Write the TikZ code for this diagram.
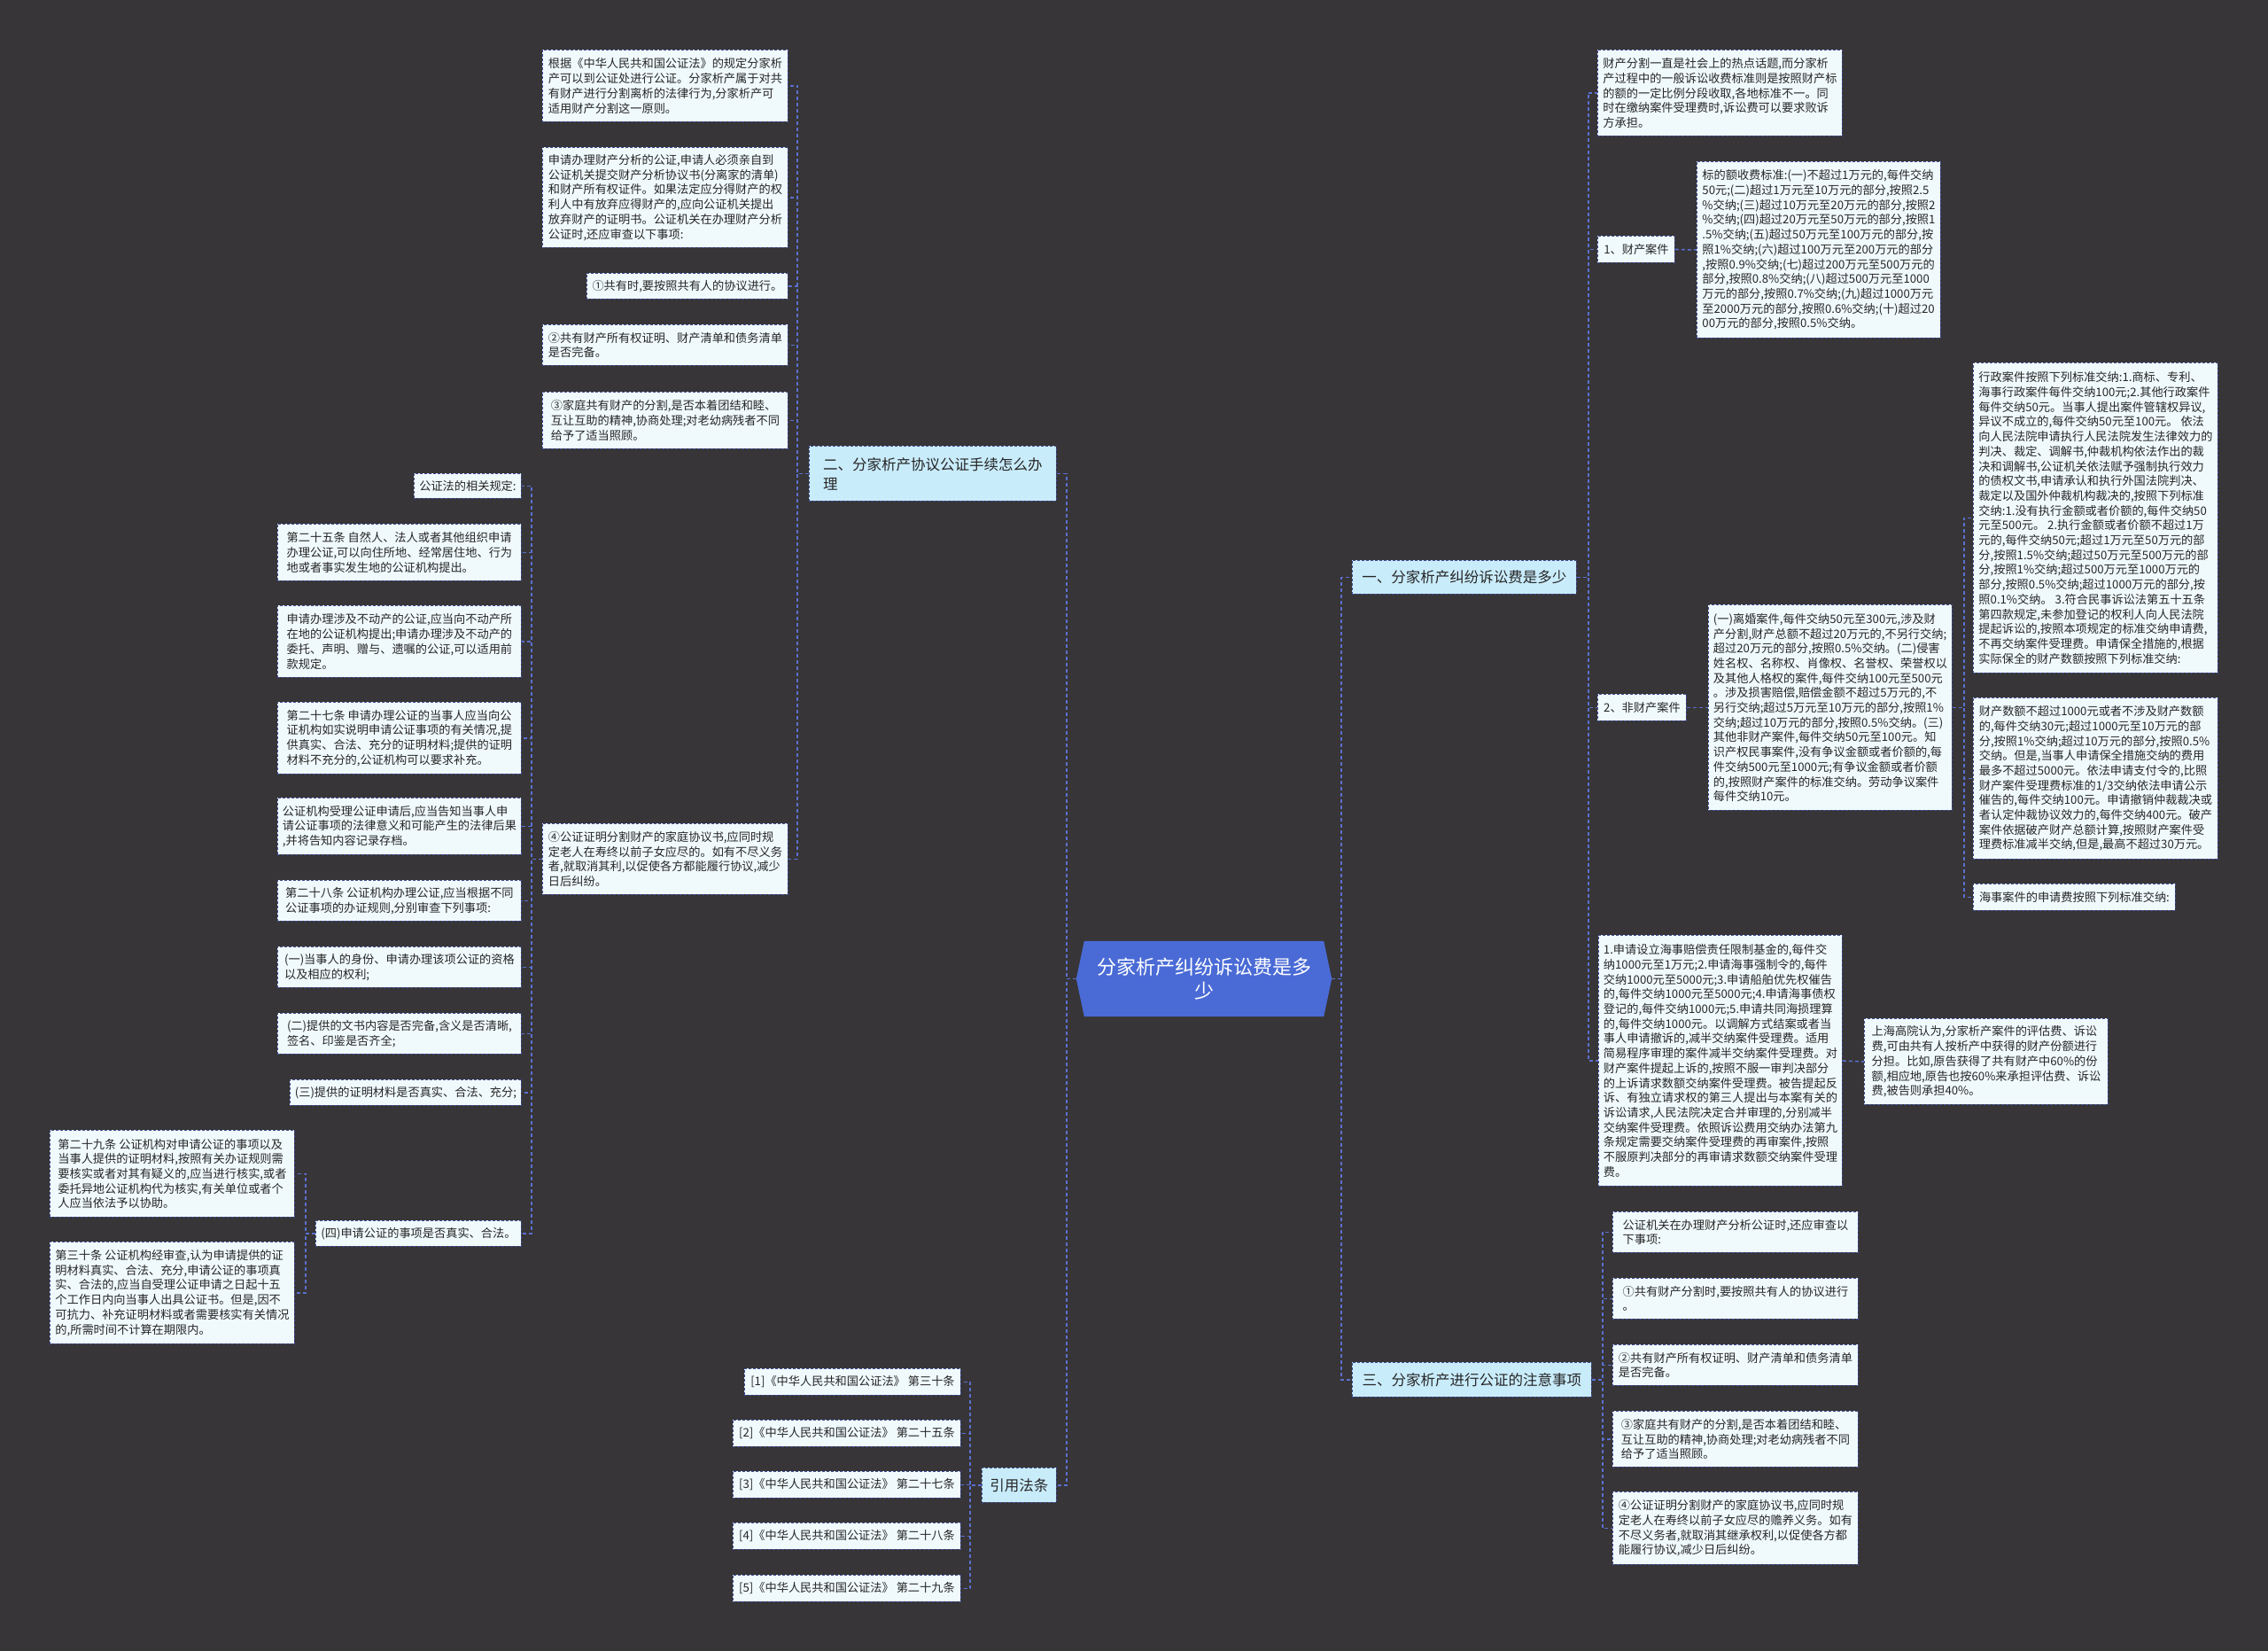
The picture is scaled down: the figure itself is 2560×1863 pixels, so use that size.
\documentclass[tikz,border=0pt]{standalone}
\usepackage{fontspec}
\setmainfont{Noto Sans CJK SC}
\usetikzlibrary{calc}
\definecolor{bgc}{HTML}{373537}
\definecolor{leaff}{HTML}{F0FAFD}
\definecolor{lvlf}{HTML}{C9ECFB}
\definecolor{rootf}{HTML}{4A6BD6}
\definecolor{bordc}{HTML}{3E4C93}
\definecolor{linec}{HTML}{5A70D0}
\definecolor{txtc}{HTML}{262626}
\pgfdeclarelayer{bg}
\pgfsetlayers{bg,main}
\tikzset{
 leaf/.style={draw=bordc, dash pattern=on 3pt off 2pt, line width=0.9pt, fill=leaff, text=txtc,
   font=\fontsize{13.2}{16.7}\selectfont, align=left, anchor=north west, inner xsep=2pt, inner ysep=0pt},
 lvl/.style={leaf, fill=lvlf, font=\fontsize{16.5}{22}\selectfont},
 root/.style={text=white, font=\fontsize{22}{27}\selectfont, align=center, minimum width=288pt,
   minimum height=85pt, inner sep=0pt},
 conn/.style={draw=linec, line width=1.5pt, dash pattern=on 4pt off 3pt},
}
\newcommand{\bx}[7][leaf]{\node[#1,minimum width=#5pt,minimum height=#6pt] (#2) at (#3,#4) {#7};}
\begin{document}
\begin{tikzpicture}[x=1pt,y=-1pt]
\useasboundingbox (0,0) rectangle (2560,1863);
\begin{pgfonlayer}{bg}
\fill[bgc] (0,0) rectangle (2560,1863);
\end{pgfonlayer}

% root
\node[root] (root) at (1359,1104.5) {分家析产纠纷诉讼费是多\\少};

% level 1
\bx[lvl]{B2}{913}{503}{279}{62}{二、分家析产协议公证手续怎么办\\理}
\bx[lvl]{Y}{1108}{1656}{84}{39}{引用法条}
\bx[lvl]{N1}{1526}{632}{253}{38}{一、分家析产纠纷诉讼费是多少}
\bx[lvl]{N3}{1526}{1537}{270}{39}{三、分家析产进行公证的注意事项}

% branch 二
\bx{A1}{612}{56}{277}{81}{根据《中华人民共和国公证法》的规定分家析\\产可以到公证处进行公证。分家析产属于对共\\有财产进行分割离析的法律行为,分家析产可\\适用财产分割这一原则。}
\bx{A2}{612}{166}{277}{113}{申请办理财产分析的公证,申请人必须亲自到\\公证机关提交财产分析协议书(分离家的清单)\\和财产所有权证件。如果法定应分得财产的权\\利人中有放弃应得财产的,应向公证机关提出\\放弃财产的证明书。公证机关在办理财产分析\\公证时,还应审查以下事项:}
\bx{A3}{662}{308}{227}{29}{①共有时,要按照共有人的协议进行。}
\bx{A4}{612}{366}{277}{46}{②共有财产所有权证明、财产清单和债务清单\\是否完备。}
\bx{A5}{612}{442}{277}{64}{③家庭共有财产的分割,是否本着团结和睦、\\互让互助的精神,协商处理;对老幼病残者不同\\给予了适当照顾。}
\bx{A6}{612}{929}{277}{80}{④公证证明分割财产的家庭协议书,应同时规\\定老人在寿终以前子女应尽的。如有不尽义务\\者,就取消其利,以促使各方都能履行协议,减少\\日后纠纷。}

\bx{L0}{467}{534}{121}{28}{公证法的相关规定:}
\bx{L1}{313}{591}{275}{64}{第二十五条 自然人、法人或者其他组织申请\\办理公证,可以向住所地、经常居住地、行为\\地或者事实发生地的公证机构提出。}
\bx{L2}{313}{683}{275}{81}{申请办理涉及不动产的公证,应当向不动产所\\在地的公证机构提出;申请办理涉及不动产的\\委托、声明、赠与、遗嘱的公证,可以适用前\\款规定。}
\bx{L3}{313}{792}{275}{81}{第二十七条 申请办理公证的当事人应当向公\\证机构如实说明申请公证事项的有关情况,提\\供真实、合法、充分的证明材料;提供的证明\\材料不充分的,公证机构可以要求补充。}
\bx{L4}{313}{900}{275}{64}{公证机构受理公证申请后,应当告知当事人申\\请公证事项的法律意义和可能产生的法律后果\\,并将告知内容记录存档。}
\bx{L5}{313}{993}{275}{46}{第二十八条 公证机构办理公证,应当根据不同\\公证事项的办证规则,分别审查下列事项:}
\bx{L6}{313}{1068}{275}{46}{(一)当事人的身份、申请办理该项公证的资格\\以及相应的权利;}
\bx{L7}{313}{1143}{275}{46}{(二)提供的文书内容是否完备,含义是否清晰,\\签名、印鉴是否齐全;}
\bx{L8}{327}{1218}{261}{29}{(三)提供的证明材料是否真实、合法、充分;}
\bx{L9}{356}{1377}{232}{29}{(四)申请公证的事项是否真实、合法。}
\bx{L10}{56}{1275}{276}{98}{第二十九条 公证机构对申请公证的事项以及\\当事人提供的证明材料,按照有关办证规则需\\要核实或者对其有疑义的,应当进行核实,或者\\委托异地公证机构代为核实,有关单位或者个\\人应当依法予以协助。}
\bx{L11}{56}{1401}{276}{115}{第三十条 公证机构经审查,认为申请提供的证\\明材料真实、合法、充分,申请公证的事项真\\实、合法的,应当自受理公证申请之日起十五\\个工作日内向当事人出具公证书。但是,因不\\可抗力、补充证明材料或者需要核实有关情况\\的,所需时间不计算在期限内。}

% citations
\bx{C1}{840}{1544}{244}{30}{[1]《中华人民共和国公证法》 第三十条}
\bx{C2}{827}{1602}{257}{30}{[2]《中华人民共和国公证法》 第二十五条}
\bx{C3}{827}{1660}{257}{30}{[3]《中华人民共和国公证法》 第二十七条}
\bx{C4}{827}{1718}{257}{30}{[4]《中华人民共和国公证法》 第二十八条}
\bx{C5}{827}{1777}{257}{30}{[5]《中华人民共和国公证法》 第二十九条}

% branch 一
\bx{R1}{1803}{56}{276}{97}{财产分割一直是社会上的热点话题,而分家析\\产过程中的一般诉讼收费标准则是按照财产标\\的额的一定比例分段收取,各地标准不一。同\\时在缴纳案件受理费时,诉讼费可以要求败诉\\方承担。}
\bx{R2}{1803}{266}{87}{30}{1、财产案件}
\bx{R3}{1915}{182}{275}{199}{标的额收费标准:(一)不超过1万元的,每件交纳\\50元;(二)超过1万元至10万元的部分,按照2.5\\\%交纳;(三)超过10万元至20万元的部分,按照2\\\%交纳;(四)超过20万元至50万元的部分,按照1\\.5\%交纳;(五)超过50万元至100万元的部分,按\\照1\%交纳;(六)超过100万元至200万元的部分\\,按照0.9\%交纳;(七)超过200万元至500万元的\\部分,按照0.8\%交纳;(八)超过500万元至1000\\万元的部分,按照0.7\%交纳;(九)超过1000万元\\至2000万元的部分,按照0.6\%交纳;(十)超过20\\00万元的部分,按照0.5\%交纳。}
\bx{R5}{1803}{783}{100}{30}{2、非财产案件}
\bx{R6}{1928}{682}{275}{232}{(一)离婚案件,每件交纳50元至300元,涉及财\\产分割,财产总额不超过20万元的,不另行交纳;\\超过20万元的部分,按照0.5\%交纳。(二)侵害\\姓名权、名称权、肖像权、名誉权、荣誉权以\\及其他人格权的案件,每件交纳100元至500元\\。涉及损害赔偿,赔偿金额不超过5万元的,不\\另行交纳;超过5万元至10万元的部分,按照1\%\\交纳;超过10万元的部分,按照0.5\%交纳。(三)\\其他非财产案件,每件交纳50元至100元。知\\识产权民事案件,没有争议金额或者价额的,每\\件交纳500元至1000元;有争议金额或者价额\\的,按照财产案件的标准交纳。劳动争议案件\\每件交纳10元。}
\bx{R7}{2227}{409}{276}{350}{行政案件按照下列标准交纳:1.商标、专利、\\海事行政案件每件交纳100元;2.其他行政案件\\每件交纳50元。当事人提出案件管辖权异议,\\异议不成立的,每件交纳50元至100元。 依法\\向人民法院申请执行人民法院发生法律效力的\\判决、裁定、调解书,仲裁机构依法作出的裁\\决和调解书,公证机关依法赋予强制执行效力\\的债权文书,申请承认和执行外国法院判决、\\裁定以及国外仲裁机构裁决的,按照下列标准\\交纳:1.没有执行金额或者价额的,每件交纳50\\元至500元。 2.执行金额或者价额不超过1万\\元的,每件交纳50元;超过1万元至50万元的部\\分,按照1.5\%交纳;超过50万元至500万元的部\\分,按照1\%交纳;超过500万元至1000万元的\\部分,按照0.5\%交纳;超过1000万元的部分,按\\照0.1\%交纳。 3.符合民事诉讼法第五十五条\\第四款规定,未参加登记的权利人向人民法院\\提起诉讼的,按照本项规定的标准交纳申请费,\\不再交纳案件受理费。申请保全措施的,根据\\实际保全的财产数额按照下列标准交纳:}
\bx{R8}{2227}{787}{276}{182}{财产数额不超过1000元或者不涉及财产数额\\的,每件交纳30元;超过1000元至10万元的部\\分,按照1\%交纳;超过10万元的部分,按照0.5\%\\交纳。但是,当事人申请保全措施交纳的费用\\最多不超过5000元。依法申请支付令的,比照\\财产案件受理费标准的1/3交纳依法申请公示\\催告的,每件交纳100元。申请撤销仲裁裁决或\\者认定仲裁协议效力的,每件交纳400元。破产\\案件依据破产财产总额计算,按照财产案件受\\理费标准减半交纳,但是,最高不超过30万元。}
\bx{R9}{2227}{997}{228}{30}{海事案件的申请费按照下列标准交纳:}
\bx{R10}{1804}{1055}{275}{283}{1.申请设立海事赔偿责任限制基金的,每件交\\纳1000元至1万元;2.申请海事强制令的,每件\\交纳1000元至5000元;3.申请船舶优先权催告\\的,每件交纳1000元至5000元;4.申请海事债权\\登记的,每件交纳1000元;5.申请共同海损理算\\的,每件交纳1000元。以调解方式结案或者当\\事人申请撤诉的,减半交纳案件受理费。适用\\简易程序审理的案件减半交纳案件受理费。对\\财产案件提起上诉的,按照不服一审判决部分\\的上诉请求数额交纳案件受理费。被告提起反\\诉、有独立请求权的第三人提出与本案有关的\\诉讼请求,人民法院决定合并审理的,分别减半\\交纳案件受理费。依照诉讼费用交纳办法第九\\条规定需要交纳案件受理费的再审案件,按照\\不服原判决部分的再审请求数额交纳案件受理\\费。}
\bx{R11}{2104}{1149}{275}{97}{上海高院认为,分家析产案件的评估费、诉讼\\费,可由共有人按析产中获得的财产份额进行\\分担。比如,原告获得了共有财产中60\%的份\\额,相应地,原告也按60\%来承担评估费、诉讼\\费,被告则承担40\%。}

% branch 三
\bx{S1}{1820}{1367}{277}{46}{公证机关在办理财产分析公证时,还应审查以\\下事项:}
\bx{S2}{1820}{1442}{277}{46}{①共有财产分割时,要按照共有人的协议进行\\。}
\bx{S3}{1820}{1517}{277}{46}{②共有财产所有权证明、财产清单和债务清单\\是否完备。}
\bx{S4}{1820}{1592}{277}{63}{③家庭共有财产的分割,是否本着团结和睦、\\互让互助的精神,协商处理;对老幼病残者不同\\给予了适当照顾。}
\bx{S5}{1820}{1683}{277}{82}{④公证证明分割财产的家庭协议书,应同时规\\定老人在寿终以前子女应尽的赡养义务。如有\\不尽义务者,就取消其继承权利,以促使各方都\\能履行协议,减少日后纠纷。}

\begin{pgfonlayer}{bg}
\fill[rootf] ($(root.north west)+(9,0)$) -- (root.west) -- ($(root.south west)+(9,0)$)
  -- ($(root.south east)+(-9,0)$) -- (root.east) -- ($(root.north east)+(-9,0)$) -- cycle;
\foreach \c in {B2,Y} \draw[conn] (root.west) -- ++(-11,0) |- (\c.east);
\foreach \c in {N1,N3} \draw[conn] (root.east) -- ++(11,0) |- (\c.west);
\foreach \c in {A1,A2,A3,A4,A5,A6} \draw[conn] (B2.west) -- ++(-13,0) |- (\c.east);
\foreach \c in {L0,L1,L2,L3,L4,L5,L6,L7,L8,L9} \draw[conn] (A6.west) -- ++(-12,0) |- (\c.east);
\foreach \c in {L10,L11} \draw[conn] (L9.west) -- ++(-11,0) |- (\c.east);
\foreach \c in {C1,C2,C3,C4,C5} \draw[conn] (Y.west) -- ++(-13,0) |- (\c.east);
\foreach \c in {R1,R2,R5,R10} \draw[conn] (N1.east) -- ++(13,0) |- (\c.west);
\draw[conn] (R2.east) -- (R3.west);
\draw[conn] (R5.east) -- (R6.west);
\draw[conn] (R10.east) -- (R11.west);
\foreach \c in {R7,R8,R9} \draw[conn] (R6.east) -- ++(13,0) |- (\c.west);
\foreach \c in {S1,S2,S3,S4,S5} \draw[conn] (N3.east) -- ++(12,0) |- (\c.west);
\end{pgfonlayer}
\end{tikzpicture}
\end{document}
